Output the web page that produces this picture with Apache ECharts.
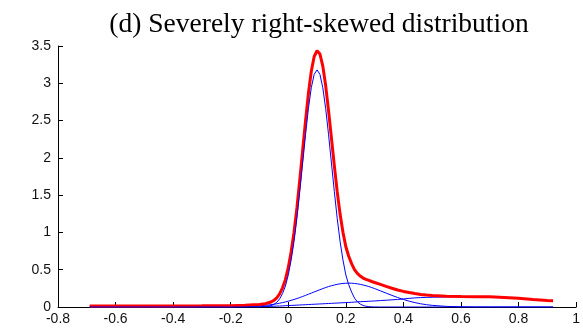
<!DOCTYPE html>
<html>
<head>
<meta charset="utf-8">
<script src="https://cdn.jsdelivr.net/npm/echarts@6/dist/echarts.min.js"></script>
<style>html,body{margin:0;padding:0;background:#fff}#c{width:583px;height:330px}</style>
</head>
<body>
<div id="c"></div>
<script>
const titleText = '(d) Severely right-skewed distribution';
const xs = [-0.69,-0.6,-0.5,-0.4,-0.3,-0.2,-0.15,-0.12,-0.1,-0.08,-0.06,-0.05,-0.04,-0.03,-0.02,-0.01,
  0,0.01,0.02,0.03,0.04,0.05,0.06,0.07,0.08,0.09,0.1,0.11,0.12,0.13,0.14,0.15,0.16,0.17,0.18,0.19,0.2,
  0.21,0.22,0.23,0.24,0.25,0.26,0.27,0.28,0.29,0.3,
  0.32,0.34,0.36,0.38,0.4,0.42,0.44,0.46,0.48,0.5,
  0.55,0.6,0.65,0.7,0.75,0.8,0.85,0.9,0.92];
const narrow = [0,0,0,0,0,0,0,0,0.001,0.005,0.019,0.035,0.063,0.108,0.18,0.28,
  0.43,0.63,0.88,1.19,1.55,1.93,2.31,2.66,2.94,3.12,3.18,3.12,2.94,2.66,2.31,1.93,1.55,1.19,0.88,0.63,0.43,
  0.30,0.20,0.12,0.07,0.04,0.02,0.01,0.005,0.002,0.001,
  0,0,0,0,0,0,0,0,0,0,
  0,0,0,0,0,0,0,0,0];
const medium = [0,0,0,0,0,0.0015,0.005,0.01,0.015,0.022,0.031,0.037,0.043,0.051,0.059,0.068,
  0.078,0.089,0.101,0.113,0.127,0.141,0.156,0.171,0.186,0.202,0.217,0.232,0.247,0.261,0.274,0.285,0.295,0.304,0.311,0.316,0.319,
  0.32,0.319,0.316,0.311,0.304,0.295,0.285,0.274,0.261,0.247,
  0.217,0.186,0.156,0.127,0.101,0.078,0.059,0.043,0.031,0.022,
  0.008,0.0025,0,0,0,0,0,0,0];
const wide = [0,0,0,0,0,0,0.002,0.004,0.005,0.007,0.009,0.01,0.012,0.013,0.015,0.017,
  0.019,0.021,0.023,0.025,0.027,0.029,0.031,0.033,0.035,0.037,0.039,0.041,0.043,0.045,0.047,0.049,0.051,0.053,0.055,0.057,0.059,
  0.061,0.063,0.066,0.069,0.071,0.073,0.075,0.077,0.079,0.081,
  0.086,0.091,0.096,0.101,0.108,0.116,0.122,0.126,0.129,0.131,
  0.135,0.138,0.139,0.137,0.128,0.116,0.1,0.088,0.085];
const total = [0.015,0.015,0.015,0.015,0.016,0.018,0.022,0.03,0.033,0.044,0.067,0.088,0.123,0.176,0.257,0.367,
  0.527,0.74,1.004,1.328,1.704,2.10,2.497,2.864,3.161,3.359,3.436,3.393,3.23,2.966,2.631,2.264,1.896,1.547,1.246,1.003,0.808,
  0.681,0.582,0.502,0.45,0.415,0.388,0.37,0.356,0.342,0.329,
  0.303,0.277,0.252,0.228,0.209,0.194,0.181,0.169,0.16,0.153,
  0.143,0.14,0.139,0.137,0.128,0.116,0.1,0.088,0.085];
const xTicks = {min:-0.8, max:1, interval:0.2};
const yTicks = {min:0, max:3.5, interval:0.5};

const pairs = arr => xs.map((x,i)=>[x, arr[i]]);
const chart = echarts.init(document.getElementById('c'), null, {renderer:'canvas'});
const fmt = v => String(+(+v).toFixed(2));
const axisCommon = {
  axisLine:{show:true, onZero:false, lineStyle:{color:'#000', width:1}},
  axisTick:{show:true, inside:true, length:5, lineStyle:{color:'#000', width:1}},
  splitLine:{show:false},
  axisLabel:{color:'#111', fontFamily:'Liberation Sans, Arial, sans-serif', fontSize:14, formatter:fmt}
};
chart.setOption({
  animation:false,
  title:{text:titleText, left:314, textAlign:'center', top:6,
    textStyle:{fontFamily:'Liberation Serif, Times New Roman, serif', fontWeight:'normal', fontSize:27.5, color:'#000'}},
  grid:{left:58, right:3, top:46, bottom:23, containLabel:false},
  xAxis:Object.assign({type:'value', min:xTicks.min, max:xTicks.max, interval:xTicks.interval}, axisCommon,
    {axisLabel:Object.assign({}, axisCommon.axisLabel, {margin:5})}),
  yAxis:Object.assign({type:'value', min:yTicks.min, max:yTicks.max, interval:yTicks.interval}, axisCommon,
    {axisLabel:Object.assign({}, axisCommon.axisLabel, {margin:7})}),
  series:[
    {type:'line', data:pairs(medium), showSymbol:false, lineStyle:{color:'#0000ff', width:1}, z:2},
    {type:'line', data:pairs(wide), showSymbol:false, lineStyle:{color:'#0000ff', width:1}, z:2},
    {type:'line', data:pairs(total), showSymbol:false, lineStyle:{color:'#ff0000', width:3}, z:3},
    {type:'line', data:pairs(narrow), showSymbol:false, lineStyle:{color:'#0000ff', width:1}, z:4}
  ]
});
</script>
</body>
</html>
